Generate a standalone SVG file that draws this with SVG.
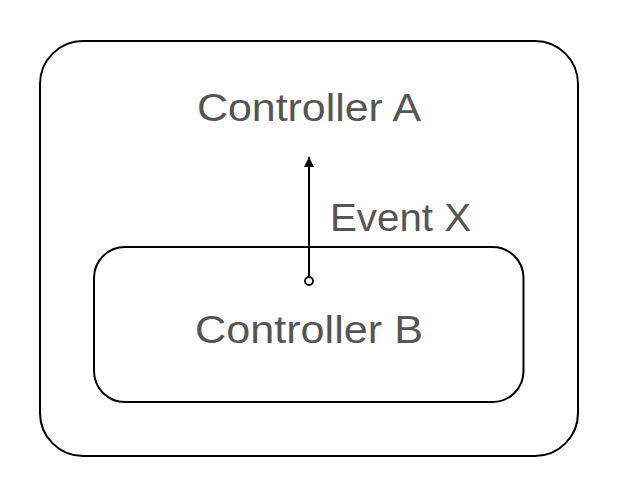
<svg xmlns="http://www.w3.org/2000/svg" width="620" height="500" viewBox="0 0 620 500">
<style>
.box{fill:none;stroke:#000;stroke-width:2}
.lbl{font-family:"Liberation Sans",Arial,sans-serif;font-size:39px;fill:#555;text-anchor:middle}
.edge{stroke:#000;stroke-width:2;fill:none}
</style>
<defs>
<marker id="arr" viewBox="0 0 10 10" refX="10" refY="5" markerWidth="10" markerHeight="10" markerUnits="userSpaceOnUse" orient="auto">
<path d="M0,0 L10,5 L0,10 z" fill="#000"/>
</marker>
</defs>
<rect width="620" height="500" fill="#fff"/>
<g id="controller-a">
<rect class="box" x="40" y="41" width="538" height="415" rx="43" ry="43"/>
<text class="lbl" x="309" y="121" textLength="224" lengthAdjust="spacingAndGlyphs">Controller A</text>
</g>
<g id="controller-b">
<rect class="box" x="94" y="247" width="429.5" height="155" rx="31" ry="31"/>
<text class="lbl" x="309" y="343" textLength="228" lengthAdjust="spacingAndGlyphs">Controller B</text>
</g>
<g id="connectors">
<line class="edge" x1="309" y1="277" x2="309" y2="157" marker-end="url(#arr)"/>
<circle cx="309" cy="281" r="4" fill="#fff" stroke="#000" stroke-width="1.8"/>
<text class="lbl" x="400.5" y="231" textLength="141" lengthAdjust="spacingAndGlyphs">Event X</text>
</g>
</svg>
